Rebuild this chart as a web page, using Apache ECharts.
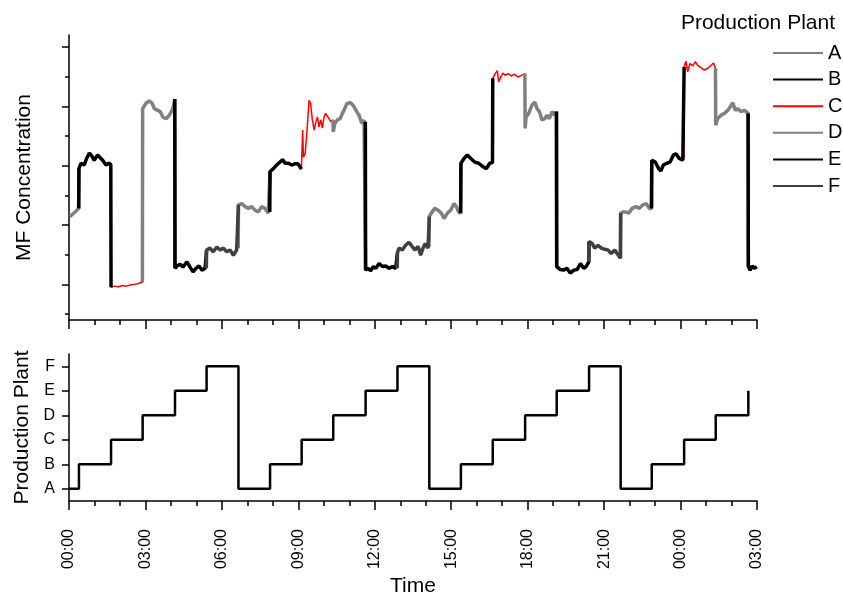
<!DOCTYPE html>
<html>
<head>
<meta charset="utf-8">
<title>MF Concentration by Production Plant</title>
<script src="https://cdn.jsdelivr.net/npm/echarts@6/dist/echarts.min.js"></script>
<style>
  html, body { margin: 0; padding: 0; background: #fff; }
  #chart { width: 843px; height: 598px; }
</style>
</head>
<body>
<div id="chart"></div>
<script>
// plants and their line colours
const plantNames = ['A', 'B', 'C', 'D', 'E', 'F'];
const plantColors = ['#808080', '#000000', '#ff0000', '#808080', '#000000', '#404040'];

// plant schedule: hour when each plant starts (hours from 00:00) and plant index
const switchHours = [0, 0.39, 1.65, 2.89, 4.16, 5.40, 6.65, 7.89, 9.13, 10.37, 11.64, 12.89,
  14.14, 15.38, 16.63, 17.90, 19.14, 20.41, 21.65, 22.87, 24.14, 25.38, 26.66];
const plantLevel = [0, 1, 2, 3, 4, 5, 0, 1, 2, 3, 4, 5, 0, 1, 2, 3, 4, 5, 0, 1, 2, 3, 4];

// MF concentration samples (hours, concentration)
const timeHours = [
  0.03, 0.24, 0.38,
  0.39, 0.47, 0.60, 0.69, 0.80, 0.90, 0.99, 1.12, 1.19, 1.32, 1.45, 1.56, 1.64,
  1.65, 1.80, 1.95, 2.10, 2.25, 2.40, 2.55, 2.70, 2.88,
  2.89, 3.02, 3.15, 3.26, 3.35, 3.48, 3.58, 3.68, 3.81, 3.94, 4.04, 4.10, 4.15,
  4.16, 4.24, 4.36, 4.47, 4.63, 4.75, 4.87, 4.98, 5.10, 5.22, 5.34, 5.39,
  5.40, 5.53, 5.66, 5.80, 5.93, 6.06, 6.19, 6.32, 6.45, 6.58, 6.64,
  6.65, 6.78, 6.91, 7.04, 7.17, 7.30, 7.43, 7.56, 7.69, 7.82, 7.88,
  7.89, 8.02, 8.15, 8.28, 8.39, 8.48, 8.61, 8.74, 8.87, 8.99, 9.12,
  9.13, 9.17, 9.20, 9.27, 9.35, 9.42, 9.48, 9.55, 9.62, 9.68, 9.75, 9.81, 9.88, 9.94, 10.01, 10.07, 10.14, 10.20, 10.27, 10.36,
  10.37, 10.43, 10.53, 10.64, 10.73, 10.79, 10.90, 10.99, 11.08, 11.19, 11.29, 11.38, 11.49, 11.58, 11.63,
  11.64, 11.73, 11.84, 11.94, 12.04, 12.17, 12.30, 12.43, 12.56, 12.69, 12.82, 12.88,
  12.89, 12.95, 13.08, 13.21, 13.34, 13.43, 13.57, 13.70, 13.80, 13.89, 13.98, 14.09, 14.13,
  14.14, 14.22, 14.35, 14.48, 14.61, 14.72, 14.85, 14.98, 15.11, 15.20, 15.29, 15.37,
  15.38, 15.50, 15.63, 15.77, 15.92, 16.08, 16.25, 16.38, 16.51, 16.62,
  16.63, 16.73, 16.81, 16.86, 16.94, 17.03, 17.12, 17.23, 17.36, 17.49, 17.62, 17.75, 17.89,
  17.90, 17.94, 18.04, 18.17, 18.28, 18.37, 18.46, 18.56, 18.67, 18.76, 18.85, 18.96, 19.06, 19.13,
  19.14, 19.28, 19.41, 19.54, 19.67, 19.81, 19.94, 20.07, 20.20, 20.29, 20.40,
  20.41, 20.53, 20.63, 20.76, 20.89, 21.02, 21.15, 21.28, 21.42, 21.51, 21.64,
  21.65, 21.73, 21.83, 21.97, 22.10, 22.25, 22.38, 22.52, 22.65, 22.78, 22.86,
  22.87, 23.01, 23.14, 23.23, 23.32, 23.46, 23.59, 23.72, 23.82, 23.95, 24.09, 24.13,
  24.14, 24.21, 24.28, 24.37, 24.48, 24.58, 24.67, 24.80, 24.93, 25.07, 25.20, 25.29, 25.37,
  25.38, 25.45, 25.59, 25.72, 25.85, 25.95, 26.05, 26.15, 26.24, 26.37, 26.51, 26.65,
  26.66, 26.73, 26.81, 26.90, 26.99
];
const mfConc = [
  2.14, 2.22, 2.28,
  2.95, 3.04, 3.01, 3.12, 3.21, 3.16, 3.09, 3.18, 3.15, 3.09, 3.01, 3.04, 3.02,
  0.95, 0.97, 0.96, 0.98, 0.97, 0.99, 1.00, 1.01, 1.04,
  3.96, 4.05, 4.09, 4.05, 3.96, 3.93, 3.91, 3.82, 3.79, 3.85, 3.93, 4.00, 4.12,
  1.27, 1.31, 1.34, 1.29, 1.38, 1.29, 1.21, 1.27, 1.31, 1.24, 1.27, 1.27,
  1.58, 1.61, 1.55, 1.63, 1.58, 1.61, 1.55, 1.58, 1.49, 1.58, 1.61,
  2.34, 2.36, 2.31, 2.28, 2.31, 2.25, 2.22, 2.31, 2.28, 2.20, 2.22,
  2.90, 2.95, 3.01, 3.06, 3.10, 3.04, 3.04, 3.01, 3.03, 3.03, 2.94,
  2.94, 3.60, 3.14, 3.21, 3.65, 4.10, 4.05, 3.77, 3.60, 3.72, 3.82, 3.65, 3.77, 3.63, 3.82, 3.88, 3.91, 3.79, 3.74, 3.77,
  3.57, 3.71, 3.77, 3.79, 3.88, 3.93, 4.04, 4.06, 4.05, 3.99, 3.91, 3.85, 3.71, 3.77, 3.74,
  1.24, 1.27, 1.23, 1.30, 1.27, 1.35, 1.30, 1.31, 1.27, 1.30, 1.27, 1.27,
  1.53, 1.61, 1.58, 1.66, 1.71, 1.66, 1.58, 1.64, 1.49, 1.61, 1.69, 1.61, 1.63,
  2.14, 2.20, 2.28, 2.25, 2.20, 2.11, 2.20, 2.25, 2.36, 2.31, 2.22, 2.20,
  3.04, 3.12, 3.18, 3.12, 3.06, 3.04, 2.98, 2.95, 3.04, 3.05,
  4.47, 4.55, 4.60, 4.41, 4.49, 4.56, 4.52, 4.55, 4.51, 4.54, 4.49, 4.52, 4.55,
  3.63, 3.82, 3.88, 4.02, 4.07, 3.96, 3.91, 3.77, 3.79, 3.85, 3.79, 3.91, 3.85, 3.91,
  1.30, 1.25, 1.24, 1.27, 1.19, 1.24, 1.25, 1.35, 1.27, 1.30, 1.38,
  1.72, 1.69, 1.61, 1.66, 1.61, 1.59, 1.58, 1.52, 1.58, 1.52, 1.44,
  2.20, 2.22, 2.22, 2.20, 2.28, 2.31, 2.28, 2.34, 2.36, 2.28, 2.28,
  3.09, 3.06, 2.95, 2.91, 3.01, 3.04, 3.06, 3.18, 3.20, 3.12, 3.09, 3.12,
  4.66, 4.76, 4.58, 4.72, 4.68, 4.75, 4.69, 4.65, 4.61, 4.64, 4.69, 4.73, 4.64,
  3.68, 3.79, 3.85, 3.88, 3.93, 3.99, 4.06, 3.93, 3.96, 3.91, 3.93, 3.88,
  1.30, 1.24, 1.31, 1.27, 1.30
];

// axis ticks (the concentration axis has no labels)
const concMajorTicks = [1, 2, 3, 4, 5];
const concMinorTicks = [0.5, 1.5, 2.5, 3.5, 4.5];
const plantTicks = [0, 1, 2, 3, 4, 5];

const FONT = '"Liberation Sans", Arial, sans-serif';
const AXIS_LINE = { show: true, onZero: false, lineStyle: { color: '#000', width: 1.5 } };

// split the samples into plant runs; each run also takes its neighbours' edge points
const segOf = t => {
  let k = 0;
  while (k + 1 < switchHours.length && t >= switchHours[k + 1]) k++;
  return k;
};
const segments = switchHours.map(() => []);
timeHours.forEach((t, i) => segments[segOf(t)].push([t, mfConc[i]]));

const plantData = plantNames.map(() => []);
segments.forEach((pts, k) => {
  if (!pts.length) return;
  const prev = segments[k - 1];
  const next = segments[k + 1];
  const run = [];
  if (prev && prev.length) run.push(prev[prev.length - 1]);
  run.push(...pts);
  if (next && next.length) run.push(next[0]);
  const d = plantData[plantLevel[k]];
  if (d.length) d.push(['-', '-']); // gap between runs
  d.push(...run);
});

const concSeries = plantNames.map((name, p) => ({
  name: name,
  type: 'line',
  xAxisIndex: 0,
  yAxisIndex: 0,
  data: plantData[p],
  symbol: 'none',
  z: name === 'C' ? 1 : 2,
  lineStyle: { color: plantColors[p], width: name === 'C' ? 1.5 : 3.5 },
  itemStyle: { color: plantColors[p] }
}));

const hourLabel = v => String(v % 24).padStart(2, '0') + ':00';

const timeAxis = (grid, showLabels) => ({
  gridIndex: grid,
  type: 'value',
  min: 0,
  max: 27,
  interval: 3,
  axisLine: AXIS_LINE,
  axisTick: { show: true, length: 9, lineStyle: { color: '#000', width: 1.5 } },
  minorTick: { show: true, splitNumber: 3, length: 5, lineStyle: { color: '#000', width: 1.5 } },
  splitLine: { show: false },
  minorSplitLine: { show: false },
  axisLabel: {
    show: showLabels, rotate: 90, margin: 28, fontSize: 16, color: '#000',
    fontFamily: FONT, formatter: hourLabel
  }
});

const nameStyle = { fontSize: 21, color: '#000', fontFamily: FONT };

const chart = echarts.init(document.getElementById('chart'));

const option = {
  animation: false,
  textStyle: { fontFamily: FONT },
  title: {
    text: 'Production Plant',
    right: 8,
    top: 13,
    padding: 0,
    textStyle: { fontSize: 21, fontWeight: 'normal', color: '#000', fontFamily: FONT }
  },
  legend: {
    data: plantNames,
    orient: 'vertical',
    left: 772,
    top: 42,
    padding: 0,
    itemWidth: 50,
    itemHeight: 14,
    itemGap: 4.6,
    selectedMode: false,
    itemStyle: { opacity: 0 },
    textStyle: { fontSize: 20, lineHeight: 22, color: '#000', fontFamily: FONT }
  },
  grid: [
    { left: 69, right: 86, top: 35, height: 285 },   // concentration
    { left: 69, right: 86, top: 354, height: 149 },  // plant schedule
    { left: 69, right: 86, top: 35, height: 285 }    // minor ticks of the concentration axis
  ],
  xAxis: [
    timeAxis(0, false),
    Object.assign(timeAxis(1, true), {
      name: 'Time',
      nameLocation: 'middle',
      nameGap: 75,
      nameTextStyle: nameStyle
    }),
    { gridIndex: 2, type: 'value', min: 0, max: 27, show: false }
  ],
  yAxis: [
    {
      gridIndex: 0,
      type: 'value',
      min: 0.4,
      max: 5.2,
      axisLine: AXIS_LINE,
      axisTick: { show: true, length: 7, customValues: concMajorTicks, lineStyle: { color: '#000', width: 1.5 } },
      axisLabel: { show: false },
      splitLine: { show: false },
      name: 'MF Concentration',
      nameLocation: 'middle',
      nameGap: 34,
      nameTextStyle: nameStyle
    },
    {
      gridIndex: 1,
      type: 'value',
      min: -0.5,
      max: 5.5,
      axisLine: AXIS_LINE,
      axisTick: { show: true, length: 7, customValues: plantTicks, lineStyle: { color: '#000', width: 1.5 } },
      axisLabel: {
        show: true, customValues: plantTicks, margin: 14, fontSize: 16, color: '#000',
        fontFamily: FONT, formatter: v => plantNames[v]
      },
      splitLine: { show: false },
      name: 'Production Plant',
      nameLocation: 'middle',
      nameGap: 34,
      nameTextStyle: nameStyle
    },
    {
      gridIndex: 2,
      type: 'value',
      min: 0.4,
      max: 5.2,
      axisLine: { show: false },
      axisTick: { show: true, length: 4, customValues: concMinorTicks, lineStyle: { color: '#000', width: 1.5 } },
      axisLabel: { show: false },
      splitLine: { show: false }
    }
  ],
  series: concSeries.concat([{
    name: 'Plant schedule',
    type: 'line',
    step: 'end',
    xAxisIndex: 1,
    yAxisIndex: 1,
    data: switchHours.map((t, i) => [t, plantLevel[i]]),
    symbol: 'none',
    lineStyle: { color: '#000', width: 2.5 }
  }])
};

chart.setOption(option);
window.addEventListener('resize', () => chart.resize());
</script>
</body>
</html>
